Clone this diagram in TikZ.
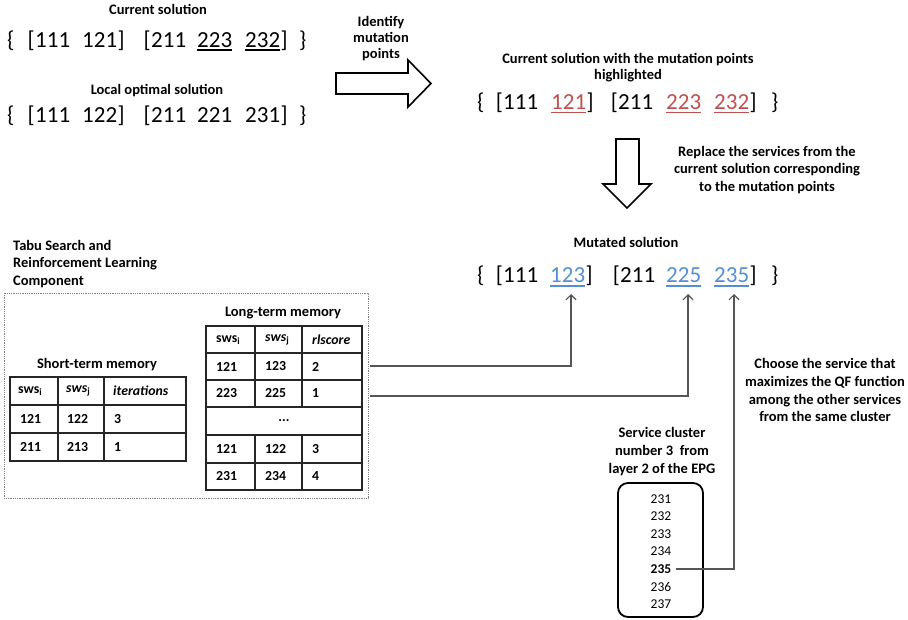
\documentclass[tikz,border=0pt]{standalone}
\usepackage{fontspec}
\setmainfont{Carlito}
\usetikzlibrary{arrows.meta}
\definecolor{hred}{RGB}{192,80,77}
\definecolor{hblue}{RGB}{85,142,213}
\definecolor{arr}{RGB}{85,85,85}
\begin{document}
\begin{tikzpicture}[x=1pt,y=-1pt,
  title/.style={font=\fontsize{14.5}{17}\selectfont\bfseries, inner sep=0, anchor=base},
  sol/.style={font=\fontsize{23}{26}\selectfont, inner sep=0, anchor=base west},
  lb/.style={sol, anchor=base east},
  rb/.style={sol, anchor=base west},
  cell/.style={font=\fontsize{13.8}{16}\selectfont\bfseries, inner sep=0, anchor=west},
  num/.style={font=\fontsize{13.5}{16}\selectfont, inner sep=0, anchor=base},
  tbl/.style={line width=1.1pt, black!85},
  bigarrow/.style={line width=1.6pt, line join=miter, fill=white},
  conn/.style={draw=arr, line width=1.2pt, -{Straight Barb[length=5pt,width=10pt]}},
  ulk/.style={line width=2pt, black},
  ulr/.style={line width=1.4pt, hred},
  ulb/.style={line width=1.4pt, hblue}]
\useasboundingbox (0,0) rectangle (908,620);

% ---------- Current solution ----------
\node[title] (ct) at (158,15) {Current solution};
\node[sol] (cb1) at (7,48) {\{};
\node[sol] (c1) at (35,48) {111};
\node[lb] at (c1.base west) {[};
\node[sol] (c2) at (82,48) {121};
\node[rb] at (c2.base east) {]};
\node[sol] (c3) at (151,48) {211};
\node[lb] at (c3.base west) {[};
\node[sol] (c4) at (197,48) {223};
\node[sol] (c5) at (245,48) {232};
\node[rb] at (c5.base east) {]};
\node[sol] (cb2) at (299,48) {\}};
\draw[ulk] ([yshift=-2.5pt]c4.base west) -- ([yshift=-2.5pt]c4.base east);
\draw[ulk] ([yshift=-2.5pt]c5.base west) -- ([yshift=-2.5pt]c5.base east);

% ---------- Local optimal solution ----------
\node[title] (lt) at (157,95) {Local optimal solution};
\node[sol] (lb1) at (7,123) {\{};
\node[sol] (l1) at (35,123) {111};
\node[lb] at (l1.base west) {[};
\node[sol] (l2) at (82,123) {122};
\node[rb] at (l2.base east) {]};
\node[sol] (l3) at (151,123) {211};
\node[lb] at (l3.base west) {[};
\node[sol] (l4) at (197,123) {221};
\node[sol] (l5) at (245,123) {231};
\node[rb] at (l5.base east) {]};
\node[sol] (lb2) at (299,123) {\}};

% ---------- Identify arrow ----------
\node[title] (id1) at (381,27) {Identify};
\node[title] (id2) at (381,43) {mutation};
\node[title] (id3) at (381,59) {points};
\draw[bigarrow] (336,73) -- (408,73) -- (408,60) -- (431,83.5) -- (408,107) -- (408,94) -- (336,94) -- cycle;

% ---------- Highlighted ----------
\node[title] (hl1) at (628,64) {Current solution with the mutation points};
\node[title] (hl2) at (628,80) {highlighted};
\node[sol] (hb1) at (477,110) {\{};
\node[sol] (h1) at (503,110) {111};
\node[lb] at (h1.base west) {[};
\node[sol, text=hred] (h2) at (551,110) {121};
\node[rb] at (h2.base east) {]};
\node[sol] (h3) at (618,110) {211};
\node[lb] at (h3.base west) {[};
\node[sol, text=hred] (h4) at (666,110) {223};
\node[sol, text=hred] (h5) at (714,110) {232};
\node[rb] at (h5.base east) {]};
\node[sol] (hb2) at (771,110) {\}};
\draw[ulr] ([yshift=-2.5pt]h2.base west) -- ([yshift=-2.5pt]h2.base east);
\draw[ulr] ([yshift=-2.5pt]h4.base west) -- ([yshift=-2.5pt]h4.base east);
\draw[ulr] ([yshift=-2.5pt]h5.base west) -- ([yshift=-2.5pt]h5.base east);

% ---------- Down arrow ----------
\draw[bigarrow] (616,139) -- (639,139) -- (639,184) -- (651,184) -- (627,208) -- (603,184) -- (616,184) -- cycle;
\node[title] (rp1) at (767,157) {Replace the services from the};
\node[title] (rp2) at (767,174) {current solution corresponding};
\node[title] (rp3) at (767,192) {to the mutation points};

% ---------- Mutated ----------
\node[title] (mt) at (626,248) {Mutated solution};
\node[sol] (mb1) at (477,283) {\{};
\node[sol] (m1) at (503,283) {111};
\node[lb] at (m1.base west) {[};
\node[sol, text=hblue] (m2) at (550,283) {123};
\node[rb] at (m2.base east) {]};
\node[sol] (m3) at (620,283) {211};
\node[lb] at (m3.base west) {[};
\node[sol, text=hblue] (m4) at (666,283) {225};
\node[sol, text=hblue] (m5) at (714,283) {235};
\node[rb] at (m5.base east) {]};
\node[sol] (mb2) at (771,283) {\}};
\draw[ulb] ([yshift=-3pt]m2.base west) -- ([yshift=-3pt]m2.base east);
\draw[ulb] ([yshift=-3pt]m4.base west) -- ([yshift=-3pt]m4.base east);
\draw[ulb] ([yshift=-3pt]m5.base west) -- ([yshift=-3pt]m5.base east);

% ---------- Tabu component ----------
\node[title, anchor=base west] (tb1) at (13,251) {Tabu Search and};
\node[title, anchor=base west] (tb2) at (13,268) {Reinforcement Learning};
\node[title, anchor=base west] (tb3) at (13,286) {Component};
\draw[gray, densely dotted, line width=0.8pt] (4,293) rectangle (368,498);

% Long-term memory table
\node[title] (ltm) at (283,317) {Long-term memory};
\draw[tbl] (206,326) rectangle (362,490);
\foreach \y in {353,380,407,435,463} \draw[tbl] (206,\y) -- (362,\y);
\foreach \x in {255,302} {\draw[tbl] (\x,326) -- (\x,407); \draw[tbl] (\x,435) -- (\x,490);}
\node[cell] (lh1) at (216,340) {sws\textsubscript{i}};
\node[cell] (lh2) at (265,340) {\itshape sws\textsubscript{\upshape j}};
\node[cell] (lh3) at (312,340) {\itshape rlscore};
\node[cell] (la1) at (216,366.5) {121};
\node[cell] (la2) at (265,366.5) {123};
\node[cell] (la3) at (312,366.5) {2};
\node[cell] (lc1) at (216,393.5) {223};
\node[cell] (lc2) at (265,393.5) {225};
\node[cell] (lc3) at (312,393.5) {1};
\node[cell, anchor=center] (ldots) at (284,421) {...};
\node[cell] (ld1) at (216,449) {121};
\node[cell] (ld2) at (265,449) {122};
\node[cell] (ld3) at (312,449) {3};
\node[cell] (le1) at (216,476.5) {231};
\node[cell] (le2) at (265,476.5) {234};
\node[cell] (le3) at (312,476.5) {4};

% Short-term memory table
\node[title] (stm) at (97,369) {Short-term memory};
\draw[tbl] (10,377) rectangle (186,461);
\foreach \y in {405,433} \draw[tbl] (10,\y) -- (186,\y);
\foreach \x in {58,104} \draw[tbl] (\x,377) -- (\x,461);
\node[cell] (sh1) at (18,391) {sws\textsubscript{i}};
\node[cell] (sh2) at (66,391) {\itshape sws\textsubscript{\upshape j}};
\node[cell] (sh3) at (113,391) {\itshape iterations};
\node[cell] (sa1) at (20,419) {121};
\node[cell] (sa2) at (67,419) {122};
\node[cell] (sa3) at (114,419) {3};
\node[cell] (sb1) at (20,447) {211};
\node[cell] (sb2) at (67,447) {213};
\node[cell] (sb3) at (114,447) {1};

% ---------- Cluster ----------
\node[title] (ch1) at (825,369) {Choose the service that};
\node[title] (ch2) at (825,386.5) {maximizes the QF function};
\node[title] (ch3) at (825,404) {among the other services};
\node[title] (ch4) at (825,421.5) {from the same cluster};
\node[title] (sc1) at (662,437) {Service cluster};
\node[title] (sc2) at (662,455) {number 3~ from};
\node[title] (sc3) at (662,473) {layer 2 of the EPG};
\draw[line width=1.8pt, rounded corners=10pt] (618,483) rectangle (703,617);
\node[num] (k1) at (661,503) {231};
\node[num] (k2) at (661,520.6) {232};
\node[num] (k3) at (661,538.2) {233};
\node[num] (k4) at (661,555.8) {234};
\node[num, font=\fontsize{13.5}{16}\selectfont\bfseries] (k5) at (661,573.4) {235};
\node[num] (k6) at (661,591) {236};
\node[num] (k7) at (661,608.6) {237};

% ---------- Connectors ----------
\coordinate (s1) at (370,366);
\coordinate (s2) at (370,396);
\coordinate (t1) at (571,294);
\coordinate (t2) at (688,294);
\coordinate (t3) at (734,294);
\draw[conn] (s1) -| (t1);
\draw[conn] (s2) -| (t2);
\draw[conn] ([xshift=5pt]k5.east) -| (t3);
\end{tikzpicture}
\end{document}
